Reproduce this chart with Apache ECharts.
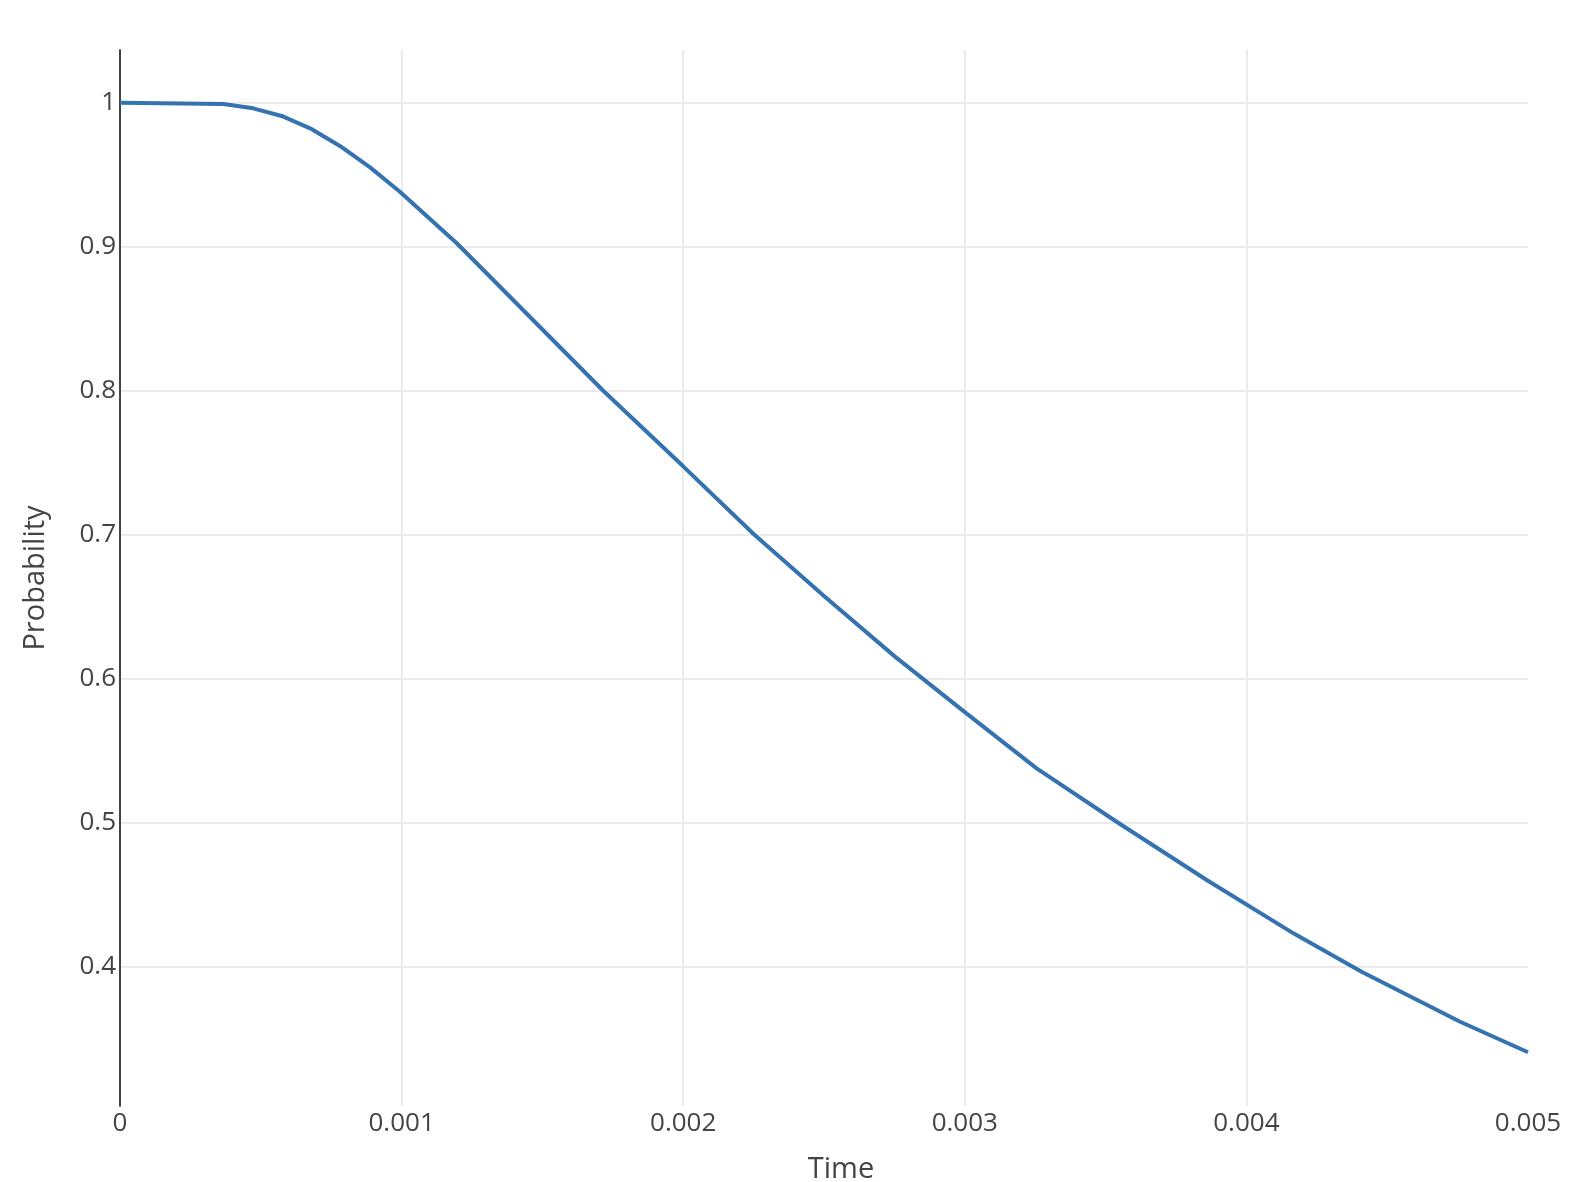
<!DOCTYPE html>
<html>
<head>
<meta charset="utf-8">
<title>Probability</title>
<script src="https://cdn.jsdelivr.net/npm/echarts@6/dist/echarts.min.js"></script>
<style>
html, body { margin: 0; padding: 0; background: #fff; }
#chart { width: 1578px; height: 1182px; }
</style>
</head>
<body>
<div id="chart"></div>
<script>
// values
let times = [0, 0.000367, 0.000473, 0.000574, 0.000675, 0.000781, 0.000888, 0.000994,
    0.001196, 0.001716, 0.002, 0.00225, 0.0025, 0.00275, 0.003, 0.003255,
    0.003539, 0.003859, 0.004167, 0.004409, 0.004759, 0.005];
let probs = [1.0, 0.9991, 0.9961, 0.9908, 0.9822, 0.9700, 0.9551, 0.9382,
    0.9024, 0.8000, 0.7475, 0.7005, 0.6574, 0.6157, 0.5768, 0.5378,
    0.5007, 0.4602, 0.4232, 0.3965, 0.3618, 0.3406];
let xTicks = [0, 0.001, 0.002, 0.003, 0.004, 0.005];
let xGrid = [0.001, 0.002, 0.003, 0.004];
let yTicks = [0.4, 0.5, 0.6, 0.7, 0.8, 0.9, 1];

let chart = echarts.init(document.getElementById("chart"));
let textColor = "#444";
let fontFamily = "'Open Sans', sans-serif";

let option = {
    animation: false,
    backgroundColor: "#fff",
    grid: {
        left: 120,
        right: 50,
        top: 50,
        bottom: 76,
        outerBoundsMode: "none",
        containLabel: false
    },
    xAxis: {
        type: "value",
        min: 0,
        max: 0.005,
        name: "Time",
        nameLocation: "middle",
        nameGap: 49,
        nameTextStyle: {
            color: textColor,
            fontSize: 29,
            fontFamily: fontFamily,
            padding: [0, 0, 0, 34]
        },
        axisLine: { show: false },
        axisTick: { show: false, customValues: xGrid },
        axisLabel: {
            customValues: xTicks,
            color: textColor,
            fontSize: 26,
            fontFamily: fontFamily,
            margin: 5
        },
        splitLine: { show: true, lineStyle: { color: "#ebebeb", width: 2 } }
    },
    yAxis: {
        type: "value",
        min: 0.3033,
        max: 1.0366,
        name: "Probability",
        nameLocation: "middle",
        nameGap: 70,
        nameTextStyle: { color: textColor, fontSize: 29, fontFamily: fontFamily },
        axisLine: { show: true, lineStyle: { color: textColor, width: 2 } },
        axisTick: { show: false, customValues: yTicks },
        axisLabel: {
            customValues: yTicks,
            color: textColor,
            fontSize: 26,
            fontFamily: fontFamily,
            margin: 4
        },
        splitLine: { show: true, lineStyle: { color: "#ebebeb", width: 2 } }
    },
    series: [
        {
            type: "line",
            showSymbol: false,
            smooth: false,
            lineStyle: { color: "#3572b0", width: 4 },
            data: times.map((t, i) => [t, probs[i]])
        }
    ]
};
chart.setOption(option);
</script>
</body>
</html>
